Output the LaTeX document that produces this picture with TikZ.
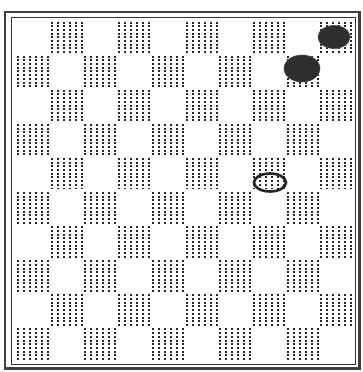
\documentclass[tikz,border=0pt]{standalone}
\usetikzlibrary{shapes.geometric}
\begin{document}
\begin{tikzpicture}[x=1pt,y=-1pt,
  hatch/.style={line width=2pt, dash pattern=on 2pt off 1.7pt, black!85},
  blackpiece/.style={ellipse, fill=black!82, draw=black!70, line width=0.6pt, inner sep=0pt},
  whitepiece/.style={ellipse, draw=black!85, line width=2.6pt, inner sep=0pt}]
\useasboundingbox (0,0) rectangle (363,372);
\fill[white] (0,0) rectangle (363,372);
% frame
\draw[line width=2.8pt, black!75] (5,12) rectangle (359.5,368.5);
\draw[line width=0.9pt, black!80] (11,17.5) rectangle (355.5,364.5);
% hatched dark squares
\foreach \r in {0,...,9}{
  \foreach \c in {0,...,9}{
    \ifodd\numexpr\r+\c\relax
      \foreach \k in {0,...,5}{
        \draw[hatch] ({16+33.7*\c+2+6*\k},{20+34.1*\r+1.5}) -- ++(0,31.5);
      }
    \fi
  }
}
% pieces
\node[blackpiece, minimum width=32pt, minimum height=23pt] (b1) at (334,37) {};
\node[blackpiece, minimum width=36pt, minimum height=27pt] (b2) at (302,68.5) {};
\node[whitepiece, minimum width=32pt, minimum height=18pt] (w1) at (270,182.5) {};
\end{tikzpicture}
\end{document}
